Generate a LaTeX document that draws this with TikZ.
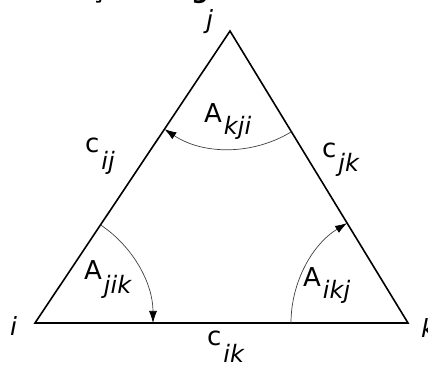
\documentclass[tikz,border=0pt]{standalone}
\usepackage{fontspec}
\setmainfont{DejaVu Sans}
\usetikzlibrary{arrows.meta,calc}
\newcommand{\symsub}[3]{{\fontsize{26}{30}\selectfont #1}\hspace{2pt}\raisebox{-#3}{\fontsize{24}{28}\selectfont\itshape #2}}
\begin{document}
\begin{tikzpicture}[x=1pt,y=1pt,
  tri/.style={line width=1.6pt,line join=miter},
  anglearc/.style={line width=0.7pt,draw=black!75,-{Latex[length=12pt,width=8pt,black]}},
  lbl/.style={anchor=base west,inner sep=0pt},
  vlbl/.style={anchor=base west,inner sep=0pt,font=\fontsize{25}{28}\selectfont\itshape},
  frag/.style={anchor=base,inner sep=0pt,font=\fontsize{24}{28}\selectfont\bfseries}]
\useasboundingbox (0,0) rectangle (428,364);
\clip (0,0) rectangle (428,364);
% clipped caption fragments
\node[frag] (f1) at (98,365) {ç};
\node[frag] (f2) at (200,365) {g};
% vertices
\coordinate (i) at (35,41);
\coordinate (j) at (230,333);
\coordinate (k) at (408,41);
\draw[tri] (i) -- (j) -- (k) -- cycle;
% angle arcs
\draw[anglearc] ($(j)+(301.37:118pt)$) arc[start angle=301.37,end angle=236.27,radius=118pt];
\draw[anglearc] ($(i)+(56.27:118pt)$) arc[start angle=56.27,end angle=0,radius=118pt];
\draw[anglearc] ($(k)+(180:117pt)$) arc[start angle=180,end angle=121.37,radius=117pt];
% vertex labels
\node[vlbl] (li) at (10,29) {i};
\node[vlbl] (lj) at (206,335) {j};
\node[vlbl] (lk) at (421,27) {k};
% angle labels
\node[lbl] (akji) at (204,241) {\symsub{A}{kji}{12pt}};
\node[lbl] (ajik) at (84,84) {\symsub{A}{jik}{13pt}};
\node[lbl] (aikj) at (303,77) {\symsub{A}{ikj}{12pt}};
% side labels
\node[lbl] (cij) at (85,211) {\symsub{c}{ij}{17pt}};
\node[lbl] (cjk) at (322,206) {\symsub{c}{jk}{14pt}};
\node[lbl] (cik) at (207,19) {\symsub{c}{ik}{17pt}};
\end{tikzpicture}
\end{document}
